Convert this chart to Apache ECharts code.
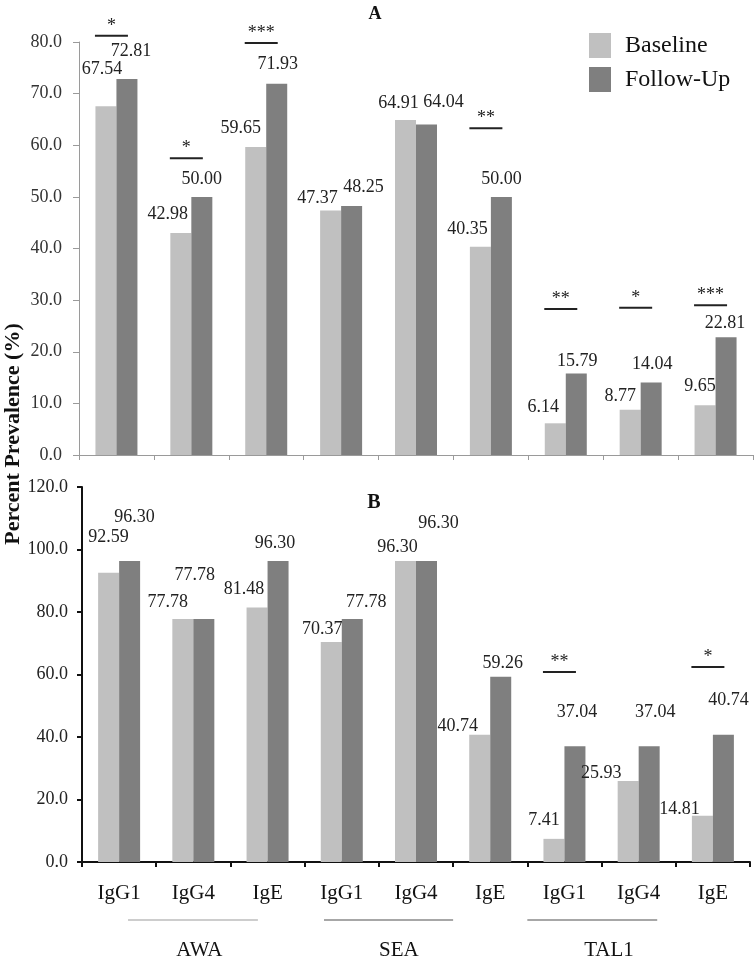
<!DOCTYPE html>
<html>
<head>
<meta charset="utf-8">
<script src="https://cdn.jsdelivr.net/npm/echarts@6/dist/echarts.min.js"></script>
<style>
  html, body { margin: 0; padding: 0; background: #fff; }
  #chart { width: 755px; height: 958px; }
</style>
</head>
<body>
<div id="chart"></div>
<script>
// ---------- data ----------
const categories = ['IgG1', 'IgG4', 'IgE', 'IgG1', 'IgG4', 'IgE', 'IgG1', 'IgG4', 'IgE'];
const groupNames = ['AWA', 'SEA', 'TAL1'];
const seriesNames = ['Baseline', 'Follow-Up'];

const baselineA = [67.54, 42.98, 59.65, 47.37, 64.91, 40.35, 6.14, 8.77, 9.65];
const followUpA = [72.81, 50.00, 71.93, 48.25, 64.04, 50.00, 15.79, 14.04, 22.81];
const baselineB = [92.59, 77.78, 81.48, 70.37, 96.30, 40.74, 7.41, 25.93, 14.81];
const followUpB = [96.30, 77.78, 96.30, 77.78, 96.30, 59.26, 37.04, 37.04, 40.74];

const yTicksA = [0, 10, 20, 30, 40, 50, 60, 70, 80];
const yTicksB = [0, 20, 40, 60, 80, 100, 120];

// significance brackets: [category index, level (%)] and their stars
const sigPosA = [[0, 81.2], [1, 57.5], [2, 79.8], [5, 63.3], [6, 28.3], [7, 28.5], [8, 29.0]];
const sigStarsA = ['*', '*', '***', '**', '**', '*', '***'];
const sigPosB = [[6, 60.8], [8, 62.4]];
const sigStarsB = ['**', '*'];

// ---------- label placement (style, px offsets) ----------
const offBaseA = [[-4,-23],[-13,-5],[-15,-5],[-13,2],[-7,-3],[-13,-3],[-12,-2],[-10,1],[-5,-5]];
const offFuA   = [[4,-14],[0,-4],[1,-5],[12,-5],[17,-8],[0,-4],[1,2],[1,-4],[-1,0]];
const offBaseB = [[0,-21],[-15,-3],[-13,-4],[-9,1],[-8,0],[-22,6],[-10,-5],[-27,6],[-23,8]];
const offFuB   = [[5,-30],[-9,-30],[-3,-4],[14,-3],[12,-24],[2,0],[2,-20],[6,-20],[5,-20]];

const FONT = 'Liberation Serif, Times New Roman, serif';
const LIGHT = '#c0c0c0';
const DARK = '#7f7f7f';

const gridA = { left: 79, top: 42, right: 2, bottom: 958 - 455 };
const gridB = { left: 82, top: 487, right: 5, bottom: 958 - 862 };

function items(vals, offs) {
  return vals.map((v, i) => ({ value: v, label: { offset: offs[i] } }));
}

function barSeries(name, vals, offs, idx, color, fs) {
  return {
    name: name,
    type: 'bar',
    xAxisIndex: idx,
    yAxisIndex: idx,
    barWidth: 21,
    barGap: '0%',
    itemStyle: { color: color },
    label: {
      show: true, position: 'top', distance: 5,
      fontFamily: FONT, fontSize: fs, color: '#222',
      formatter: p => Number(p.value).toFixed(2)
    },
    data: items(vals, offs),
    z: 2
  };
}

function sigSeries(pos, stars, idx) {
  return {
    type: 'custom',
    xAxisIndex: idx,
    yAxisIndex: idx,
    silent: true,
    data: pos,
    encode: { x: 0, y: 1 },
    renderItem: function (params, api) {
      const p = api.coord([api.value(0), api.value(1)]);
      const cx = p[0] - 5;
      const half = 16.5;
      return {
        type: 'group',
        children: [
          { type: 'line', shape: { x1: cx - half, y1: p[1], x2: cx + half, y2: p[1] },
            style: { stroke: '#222', lineWidth: 2 } },
          { type: 'text', x: cx, y: p[1] - 1,
            style: { text: stars[params.dataIndex], textAlign: 'center', textVerticalAlign: 'bottom',
                     font: '18px ' + FONT, fill: '#222' } }
        ]
      };
    },
    z: 5
  };
}

const chart = echarts.init(document.getElementById('chart'), null, { renderer: 'canvas' });

// group lines / names under panel B (decoration, placed by category units)
const cwB = (755 - gridB.left - gridB.right) / categories.length;
const groupSpan = [[0.62, 2.37], [3.26, 5.0], [6.0, 7.75]];
const groupNameAt = [1.58, 4.27, 7.1];
const groupLineColor = ['#bdbdbd', '#8a8a8a', '#8a8a8a'];
const graphics = [];
groupNames.forEach((g, i) => {
  graphics.push({
    type: 'line',
    shape: { x1: gridB.left + groupSpan[i][0] * cwB, y1: 920, x2: gridB.left + groupSpan[i][1] * cwB, y2: 920 },
    style: { stroke: groupLineColor[i], lineWidth: 1.5 }
  });
  graphics.push({
    type: 'text', x: gridB.left + groupNameAt[i] * cwB, y: 950,
    style: { text: g, textAlign: 'center', textVerticalAlign: 'middle', font: '21px ' + FONT, fill: '#111' }
  });
});
graphics.push({
  type: 'text', x: 13, y: 434, rotation: Math.PI / 2,
  style: { text: 'Percent Prevalence (%)', textAlign: 'center', textVerticalAlign: 'middle',
           font: 'bold 22px ' + FONT, fill: '#111' }
});

const option = {
  animation: false,
  backgroundColor: '#fff',
  title: [
    { text: 'A', left: 370, top: 0, textAlign: 'center',
      textStyle: { fontFamily: FONT, fontWeight: 'bold', fontSize: 18, color: '#111' } },
    { text: 'B', left: 369, top: 488, textAlign: 'center',
      textStyle: { fontFamily: FONT, fontWeight: 'bold', fontSize: 20, color: '#111' } }
  ],
  legend: {
    data: seriesNames,
    orient: 'vertical',
    left: 584, top: 28,
    itemWidth: 22, itemHeight: 25, itemGap: 9,
    icon: 'rect',
    textStyle: { fontFamily: FONT, fontSize: 24, color: '#111', padding: [0, 0, 0, 9] }
  },
  grid: [
    Object.assign({ containLabel: false }, gridA),
    Object.assign({ containLabel: false }, gridB)
  ],
  xAxis: [
    {
      type: 'category', gridIndex: 0, data: categories,
      axisLine: { lineStyle: { color: '#9a9a9a', width: 1 } },
      axisTick: { show: true, length: 5, lineStyle: { color: '#9a9a9a' } },
      axisLabel: { show: false }
    },
    {
      type: 'category', gridIndex: 1, data: categories,
      axisLine: { lineStyle: { color: '#111', width: 2 } },
      axisTick: { show: true, length: 5, lineStyle: { color: '#111', width: 2 } },
      axisLabel: { fontFamily: FONT, fontSize: 21, color: '#111', margin: 21 }
    }
  ],
  yAxis: [
    {
      type: 'value', gridIndex: 0, min: yTicksA[0], max: yTicksA[yTicksA.length - 1],
      interval: yTicksA[1] - yTicksA[0],
      splitLine: { show: false },
      axisLine: { show: true, lineStyle: { color: '#9a9a9a', width: 1 } },
      axisTick: { show: true, length: 6, lineStyle: { color: '#9a9a9a' } },
      axisLabel: { fontFamily: FONT, fontSize: 18, color: '#333', margin: 17, formatter: v => v.toFixed(1) }
    },
    {
      type: 'value', gridIndex: 1, min: yTicksB[0], max: yTicksB[yTicksB.length - 1],
      interval: yTicksB[1] - yTicksB[0],
      splitLine: { show: false },
      axisLine: { show: true, lineStyle: { color: '#111', width: 2 } },
      axisTick: { show: true, length: 5, lineStyle: { color: '#111', width: 2 } },
      axisLabel: { fontFamily: FONT, fontSize: 18, color: '#222', margin: 14, formatter: v => v.toFixed(1) }
    }
  ],
  graphic: graphics,
  series: [
    barSeries(seriesNames[0], baselineA, offBaseA, 0, LIGHT, 18),
    barSeries(seriesNames[1], followUpA, offFuA, 0, DARK, 18),
    barSeries(seriesNames[0], baselineB, offBaseB, 1, LIGHT, 18),
    barSeries(seriesNames[1], followUpB, offFuB, 1, DARK, 18),
    sigSeries(sigPosA, sigStarsA, 0),
    sigSeries(sigPosB, sigStarsB, 1)
  ]
};
chart.setOption(option);
</script>
</body>
</html>
